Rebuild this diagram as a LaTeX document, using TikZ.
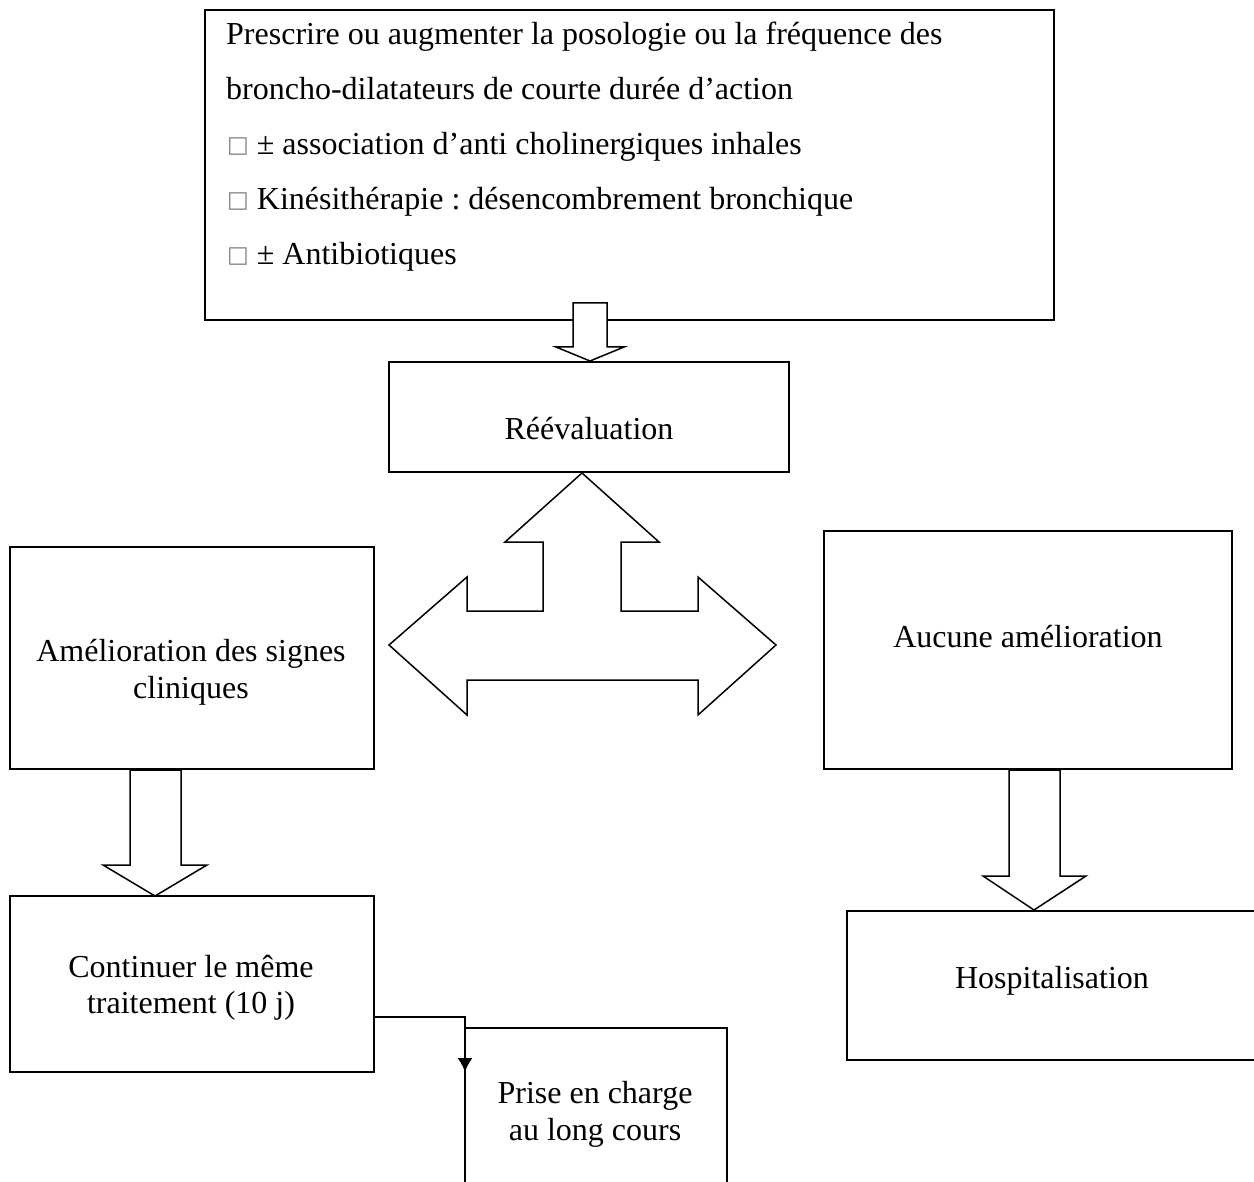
\documentclass[tikz,border=0pt]{standalone}
\usepackage{fontspec}
\setmainfont{Liberation Serif}
\newfontfamily\glyphfont{DejaVu Sans}
\usetikzlibrary{arrows.meta,fit}
\frenchspacing

% grey square used as list marker
\newcommand\listmark{\raisebox{2pt}{\glyphfont\fontsize{23}{23}\selectfont\color{gray}□}}

\begin{document}
\begin{tikzpicture}[x=1pt,y=-1pt,
  box/.style={draw,line width=1.5pt,fill=white,inner sep=0pt},
  blockarrow/.style={draw,line width=1.5pt,fill=white,line join=miter},
  txt/.style={font=\fontsize{32}{37}\selectfont,anchor=base,inner sep=0pt},
  ltxt/.style={txt,anchor=base west},
  link/.style={line width=1.5pt,-{Latex[length=14pt,width=15pt]}}]

\useasboundingbox (0,0) rectangle (1254,1182);
\clip (0,0) rectangle (1254,1182);

% ---------- top instruction box ----------
\node[box,fit={(205,10) (1054,320)}] (presc) {};
\node[ltxt] (l1) at (226,45) {Prescrire ou augmenter la posologie ou la fréquence des};
\node[ltxt] (l2) at (226,100) {broncho-dilatateurs de courte durée d’action};
\node[ltxt] (l3) at (227,155) {\listmark\ ± association d’anti cholinergiques inhales};
\node[ltxt] (l4) at (227,210) {\listmark\ Kinésithérapie : désencombrement bronchique};
\node[ltxt] (l5) at (227,265) {\listmark\ ± Antibiotiques};

% ---------- reassessment ----------
\node[box,fit={(389,362) (789,472)}] (reev) {};
\node[txt] (reevt) at (589,439) {Réévaluation};

% block arrow: top box -> reassessment
\draw[blockarrow] (573,303) -- (607,303) -- (607,347) -- (624,347) -- (590,361)
  -- (556,347) -- (573,347) -- cycle;

% three-headed block arrow
\draw[blockarrow] (582,473) -- (659,542) -- (621,542) -- (621,611) -- (698,611)
  -- (698,577) -- (776,645) -- (698,715) -- (698,680) -- (467,680) -- (467,715)
  -- (389,645) -- (467,577) -- (467,611) -- (543,611) -- (543,542) -- (505,542) -- cycle;

% ---------- left branch ----------
\node[box,fit={(10,547) (374,769)}] (amel) {};
\node[txt] (amel1) at (191,661) {Amélioration des signes};
\node[txt] (amel2) at (191,698) {cliniques};

\draw[blockarrow] (130,770) -- (181,770) -- (181,865) -- (207,865) -- (155,896)
  -- (103,865) -- (130,865) -- cycle;

\node[box,fit={(10,896) (374,1072)}] (cont) {};
\node[txt] (cont1) at (191,977) {Continuer le même};
\node[txt] (cont2) at (191,1013) {traitement (10 j)};

% long-term care box (runs off the bottom edge)
\node[box,fit={(465,1028) (727,1230)}] (prise) {};
\node[txt] (prise1) at (595,1103) {Prise en charge};
\node[txt] (prise2) at (595,1140) {au long cours};

% connector: continue treatment -> long-term care
\coordinate (c1) at (374,963);
\coordinate (c2) at (465,1072);
\draw[link] (c1) -- ++(0,54) -| (c2);

% ---------- right branch ----------
\node[box,fit={(824,531) (1232,769)}] (aucune) {};
\node[txt] (aucunet) at (1028,647) {Aucune amélioration};

\draw[blockarrow] (1009,770) -- (1060,770) -- (1060,876) -- (1086,876) -- (1034,910)
  -- (983,876) -- (1009,876) -- cycle;

\node[box,fit={(847,911) (1290,1060)}] (hosp) {};
\node[txt] (hospt) at (1052,988) {Hospitalisation};

\end{tikzpicture}
\end{document}
